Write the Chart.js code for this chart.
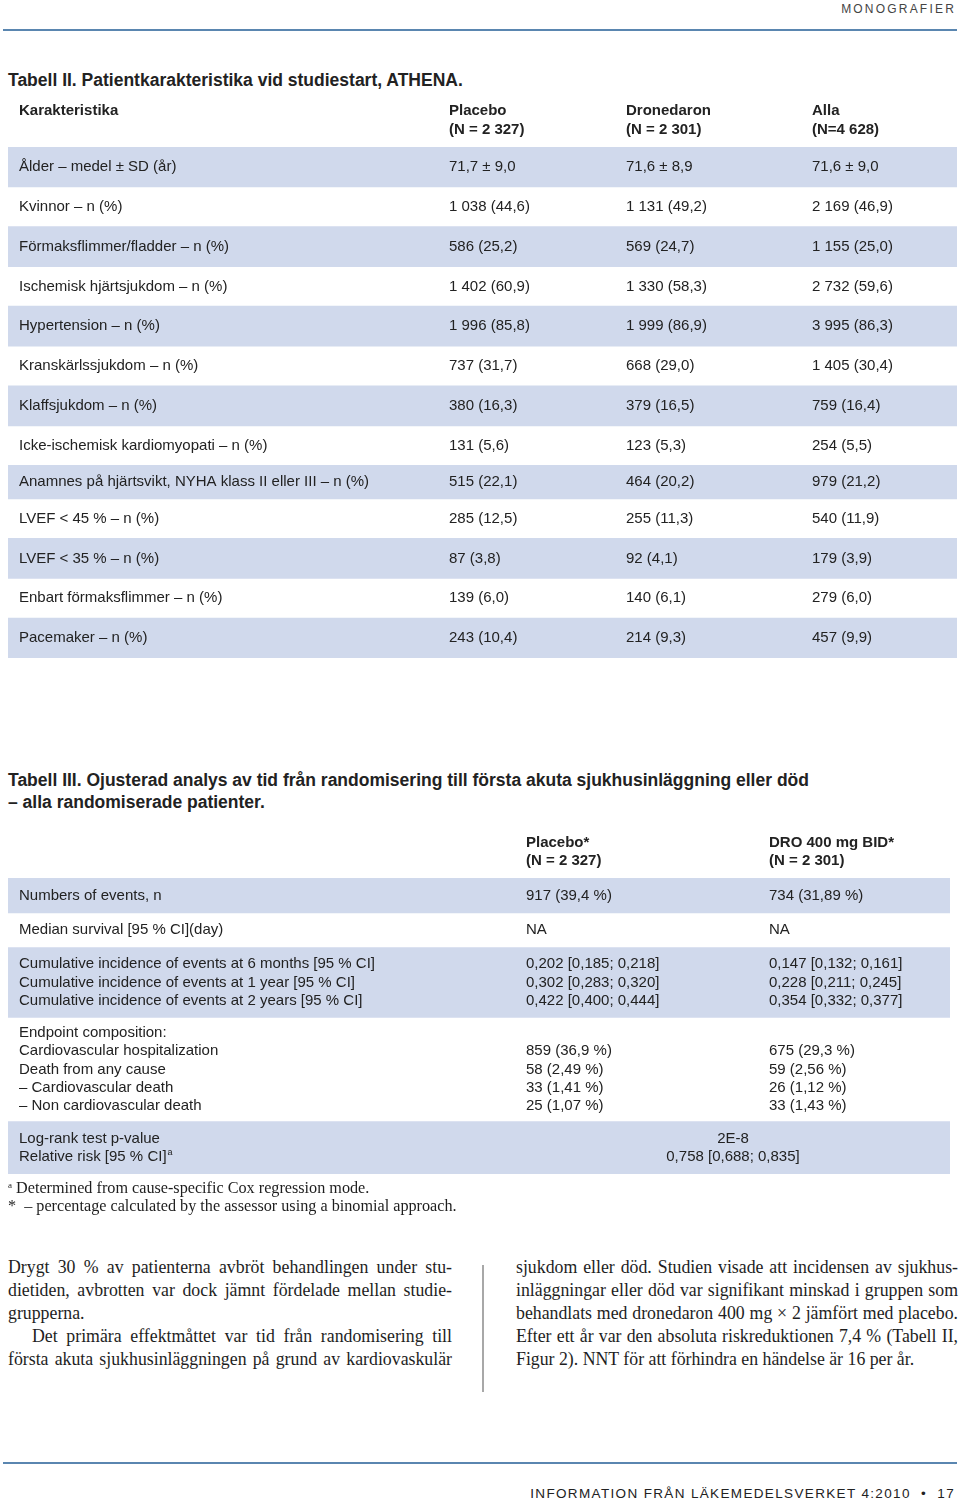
<!DOCTYPE html>
<html lang="sv">
<head>
<meta charset="utf-8">
<title>Tabell II och III, ATHENA</title>
<script src="https://cdn.jsdelivr.net/npm/chart.js@4.4.1/dist/chart.umd.min.js"></script>
<style>
  html, body { margin: 0; padding: 0; background: #fff; }
  body {
    width: 960px; height: 1501px; position: relative; overflow: hidden;
    font-family: "Liberation Sans", Arial, sans-serif; color: #222;
  }
  .abs { position: absolute; white-space: nowrap; }
  .rule { position: absolute; left: 3px; width: 954px; height: 1.5px; background: #5a86b0; }
  .title { font-weight: bold; font-size: 17.5px; line-height: 22px; left: 8px; }
  .serif { font-family: "Liberation Serif", "Times New Roman", serif; color: #1e1e1e; }
  .body { font-size: 17.8px; line-height: 23px; }
  .body div { white-space: nowrap; height: 23px; }
  .just { text-align: justify; text-align-last: justify; }
  .tight { word-spacing: -1px; }
  .wrap { position: absolute; }
</style>
</head>
<body>

<div class="abs" style="right:4px; top:1px; font-size:12px; line-height:16px; letter-spacing:2.2px; color:#444;">MONOGRAFIER</div>
<div class="rule" style="top:29px;"></div>

<div class="abs title" style="top:69px;">Tabell II. Patientkarakteristika vid studiestart, ATHENA.</div>
<div class="wrap" style="left:0; top:96px; width:960px; height:564px;"><canvas id="table2"></canvas></div>

<div class="abs title" style="top:769px;">Tabell III. Ojusterad analys av tid från randomisering till första akuta sjukhusinläggning eller död<br>– alla randomiserade patienter.</div>
<div class="wrap" style="left:0; top:820px; width:960px; height:360px;"><canvas id="table3"></canvas></div>

<div class="abs serif" style="left:8px; top:1176px; font-size:16.2px; line-height:18px;">
  <div><sup style="font-size:9px; vertical-align:5px;">a</sup>&nbsp;Determined from cause-specific Cox regression mode.</div>
  <div>*&nbsp; – percentage calculated by the assessor using a binomial approach.</div>
</div>

<div class="abs serif body" style="left:8px; top:1256px; width:444px;">
  <div class="just">Drygt 30 % av patienterna avbröt behandlingen under stu-</div>
  <div class="just">dietiden, avbrotten var dock jämnt fördelade mellan studie-</div>
  <div>grupperna.</div>
  <div class="just" style="padding-left:24px;">Det primära effektmåttet var tid från randomisering till</div>
  <div class="just">första akuta sjukhusinläggningen på grund av kardiovaskulär</div>
</div>
<div class="abs" style="left:482px; top:1265px; width:1.5px; height:127px; background:#a8a8a8;"></div>
<div class="abs serif body" style="left:516px; top:1256px; width:442px;">
  <div class="just">sjukdom eller död. Studien visade att incidensen av sjukhus-</div>
  <div class="just">inläggningar eller död var signifikant minskad i gruppen som</div>
  <div class="just tight">behandlats med dronedaron 400 mg × 2 jämfört med placebo.</div>
  <div class="just tight">Efter ett år var den absoluta riskreduktionen 7,4 % (Tabell II,</div>
  <div>Figur 2). NNT för att förhindra en händelse är 16 per år.</div>
</div>

<div class="rule" style="top:1462px;"></div>
<div class="abs" style="right:5px; top:1485px; font-size:13.5px; line-height:18px; letter-spacing:1.35px; color:#222;">INFORMATION FRÅN LÄKEMEDELSVERKET 4:2010&nbsp;&nbsp;•&nbsp;&nbsp;17</div>

<script>
// Tabell II
const t2Head = ["Karakteristika", "Placebo", "Dronedaron", "Alla"];
const t2Sub = ["", "(N = 2 327)", "(N = 2 301)", "(N=4 628)"];
const t2Rows = [
  "Ålder – medel ± SD (år)",
  "Kvinnor – n (%)",
  "Förmaksflimmer/fladder – n (%)",
  "Ischemisk hjärtsjukdom – n (%)",
  "Hypertension – n (%)",
  "Kranskärlssjukdom – n (%)",
  "Klaffsjukdom – n (%)",
  "Icke-ischemisk kardiomyopati – n (%)",
  "Anamnes på hjärtsvikt, NYHA klass II eller III – n (%)",
  "LVEF < 45 % – n (%)",
  "LVEF < 35 % – n (%)",
  "Enbart förmaksflimmer – n (%)",
  "Pacemaker – n (%)"
];
const t2Placebo = ["71,7 ± 9,0", "1 038 (44,6)", "586 (25,2)", "1 402 (60,9)", "1 996 (85,8)", "737 (31,7)",
  "380 (16,3)", "131 (5,6)", "515 (22,1)", "285 (12,5)", "87 (3,8)", "139 (6,0)", "243 (10,4)"];
const t2Dronedaron = ["71,6 ± 8,9", "1 131 (49,2)", "569 (24,7)", "1 330 (58,3)", "1 999 (86,9)", "668 (29,0)",
  "379 (16,5)", "123 (5,3)", "464 (20,2)", "255 (11,3)", "92 (4,1)", "140 (6,1)", "214 (9,3)"];
const t2Alla = ["71,6 ± 9,0", "2 169 (46,9)", "1 155 (25,0)", "2 732 (59,6)", "3 995 (86,3)", "1 405 (30,4)",
  "759 (16,4)", "254 (5,5)", "979 (21,2)", "540 (11,9)", "179 (3,9)", "279 (6,0)", "457 (9,9)"];

// Tabell III
const t3Head = ["", "Placebo*", "DRO 400 mg BID*"];
const t3Sub = ["", "(N = 2 327)", "(N = 2 301)"];
const t3Rows = [
  ["Numbers of events, n"],
  ["Median survival [95 % CI](day)"],
  ["Cumulative incidence of events at 6 months [95 % CI]",
   "Cumulative incidence of events at 1 year [95 % CI]",
   "Cumulative incidence of events at 2 years [95 % CI]"],
  ["Endpoint composition:", "Cardiovascular hospitalization", "Death from any cause",
   "– Cardiovascular death", "– Non cardiovascular death"],
  ["Log-rank test p-value", "Relative risk [95 % CI]^a"]
];
const t3Placebo = [
  ["917 (39,4 %)"],
  ["NA"],
  ["0,202 [0,185; 0,218]", "0,302 [0,283; 0,320]", "0,422 [0,400; 0,444]"],
  ["", "859 (36,9 %)", "58 (2,49 %)", "33 (1,41 %)", "25 (1,07 %)"],
  []
];
const t3Dro = [
  ["734 (31,89 %)"],
  ["NA"],
  ["0,147 [0,132; 0,161]", "0,228 [0,211; 0,245]", "0,354 [0,332; 0,377]"],
  ["", "675 (29,3 %)", "59 (2,56 %)", "26 (1,12 %)", "33 (1,43 %)"],
  []
];
const t3Both = [[], [], [], [], ["2E-8", "0,758 [0,688; 0,835]"]];

// layout
const SANS = '"Liberation Sans", Arial, sans-serif';
const BAND = "#d0d9ec";
const INK = "#222";
const t2ColX = [19, 449, 626, 812];
const t2RowSlots = [6, 6, 6, 6, 6, 6, 6, 6, 5, 6, 6, 6, 6];
const t3ColX = [19, 526, 769];
const t3MidX = 733;
const lineGap = 18.4;

// text with an optional "^x" superscript at the end
const drawText = (ctx, text, x, y, align) => {
  const parts = text.split("^");
  ctx.textAlign = align || "left";
  ctx.fillText(parts[0], x, y);
  if (parts[1]) {
    const w = ctx.measureText(parts[0]).width;
    const keep = ctx.font;
    ctx.font = "9px " + SANS;
    ctx.textAlign = "left";
    ctx.fillText(parts[1], x + w + 1, y - 5);
    ctx.font = keep;
  }
};

// each row (or group of lines) owns a run of thin category slots
const t2Slot = [];
t2Rows.forEach((r, i) => {
  for (let k = 0; k < t2RowSlots[i]; k++) t2Slot.push(i);
});
const t3Slot = [];
t3Rows.forEach((lines, g) => {
  for (let k = 0; k <= lines.length; k++) t3Slot.push(g);
});

const rowMiddle = (y, slots, idx) =>
  (y.getPixelForValue(slots.indexOf(idx)) + y.getPixelForValue(slots.lastIndexOf(idx))) / 2;

const table2Text = {
  id: "table2Text",
  afterDatasetsDraw(chart) {
    const { ctx, chartArea } = chart;
    const x = chart.scales.x;
    const y = chart.scales.y;
    ctx.save();
    ctx.fillStyle = INK;
    ctx.textBaseline = "middle";
    ctx.font = "bold 15px " + SANS;
    t2Head.forEach((h, c) => {
      drawText(ctx, h, x.getPixelForValue(t2ColX[c]), chartArea.top - 36);
      drawText(ctx, t2Sub[c], x.getPixelForValue(t2ColX[c]), chartArea.top - 17);
    });
    ctx.font = "15px " + SANS;
    const cols = [t2Rows, t2Placebo, t2Dronedaron, t2Alla];
    t2Rows.forEach((r, i) => {
      const py = rowMiddle(y, t2Slot, i);
      cols.forEach((col, c) => drawText(ctx, col[i], x.getPixelForValue(t2ColX[c]), py));
    });
    ctx.restore();
  }
};

const table3Text = {
  id: "table3Text",
  afterDatasetsDraw(chart) {
    const { ctx, chartArea } = chart;
    const x = chart.scales.x;
    const y = chart.scales.y;
    ctx.save();
    ctx.fillStyle = INK;
    ctx.textBaseline = "middle";
    ctx.font = "bold 15px " + SANS;
    t3Head.forEach((h, c) => {
      drawText(ctx, h, x.getPixelForValue(t3ColX[c]), chartArea.top - 35);
      drawText(ctx, t3Sub[c], x.getPixelForValue(t3ColX[c]), chartArea.top - 17);
    });
    ctx.font = "15px " + SANS;
    t3Rows.forEach((lines, g) => {
      const mid = rowMiddle(y, t3Slot, g);
      lines.forEach((txt, k) => {
        const py = mid + (k - (lines.length - 1) / 2) * lineGap;
        drawText(ctx, txt, x.getPixelForValue(t3ColX[0]), py);
        if (t3Placebo[g][k]) drawText(ctx, t3Placebo[g][k], x.getPixelForValue(t3ColX[1]), py);
        if (t3Dro[g][k]) drawText(ctx, t3Dro[g][k], x.getPixelForValue(t3ColX[2]), py);
        if (t3Both[g][k]) drawText(ctx, t3Both[g][k], x.getPixelForValue(t3MidX), py, "center");
      });
    });
    ctx.restore();
  }
};

const tableOptions = (xMin, xMax, padding) => ({
  indexAxis: "y",
  responsive: true,
  maintainAspectRatio: false,
  animation: false,
  layout: { padding: padding },
  plugins: { legend: { display: false }, tooltip: { enabled: false } },
  scales: {
    x: { type: "linear", display: false, min: xMin, max: xMax },
    y: { type: "category", display: false, offset: true }
  }
});

const bandSet = (slots, xMin, xMax) => ({
  data: slots.map((g) => (g % 2 === 0 ? [xMin, xMax] : null)),
  backgroundColor: BAND,
  borderWidth: 0,
  barPercentage: 1,
  categoryPercentage: 1,
  inflateAmount: 0.5
});

new Chart(document.getElementById("table2"), {
  type: "bar",
  data: {
    labels: t2Slot.map((r, i) => "rad " + i),
    datasets: [bandSet(t2Slot, 8, 957)]
  },
  options: tableOptions(8, 957, { left: 8, right: 3, top: 51, bottom: 2 }),
  plugins: [table2Text]
});

new Chart(document.getElementById("table3"), {
  type: "bar",
  data: {
    labels: t3Slot.map((g, i) => "rad " + i),
    datasets: [bandSet(t3Slot, 8, 950)]
  },
  options: tableOptions(8, 950, { left: 8, right: 10, top: 58, bottom: 6 }),
  plugins: [table3Text]
});
</script>
</body>
</html>
